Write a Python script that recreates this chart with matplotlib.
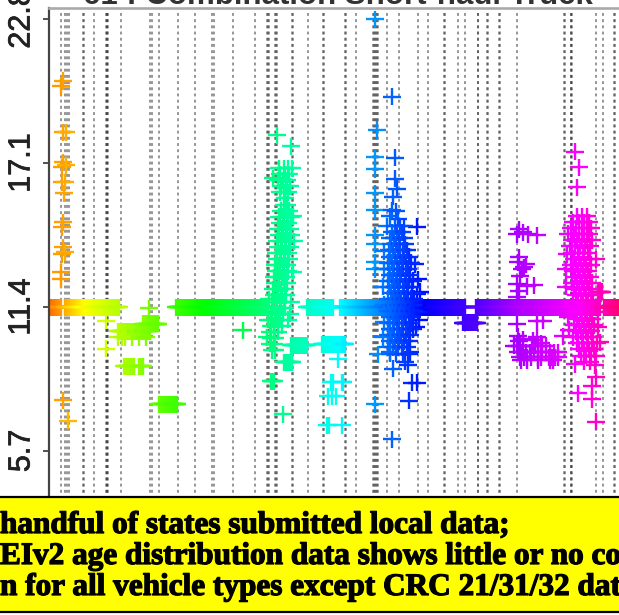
import numpy as np
import matplotlib
matplotlib.use('Agg')
import matplotlib.pyplot as plt
from matplotlib.colors import hsv_to_rgb
from matplotlib.patches import Rectangle
import matplotlib.patheffects as pe

# Site numbers that carry a dotted guide line (repeats make the darker ones)
guide_sites = [61, 65, 67, 69, 83, 84, 94, 106, 107, 107, 108, 121, 150, 152, 159, 178, 195,
               212, 214, 233, 255, 267, 268, 269, 275, 276, 277, 292, 293, 308, 323, 324, 345, 346,
               356, 373, 374, 375, 376, 377, 378, 387, 399, 418, 428, 444, 445, 458, 465, 478, 478,
               487, 488, 499, 500, 517, 564, 565, 571, 571, 572, 596, 603, 614, 615]

# Runs of consecutive sites sharing one value
run_first = [50, 65, 176, 307, 340, 378, 476, 604, 118, 143, 124, 139, 159, 291, 322, 284, 271, 463, 598]
run_last = [61, 119, 268, 333, 377, 465, 600, 619, 150, 158, 134, 143, 177, 307, 345, 292, 274, 477, 602]
run_value = [11.4, 11.4, 11.4, 11.4, 11.4, 11.4, 11.4, 11.4, 10.45, 10.73, 9.06, 9.06, 7.55, 9.89,
             9.93, 9.22, 8.46, 10.77, 12.0]

# Orange and green sites
low_sites = [63, 61, 63, 66, 63, 62, 66, 62, 65, 64, 62, 63, 63, 62, 65, 61, 61, 63, 68,
             106, 106, 149, 118, 125, 132, 139, 146, 122, 243]
low_values = [20.35, 20.15, 18.33, 18.33, 17.14, 16.94, 17.02, 16.34, 16.34, 15.91, 14.56, 14.76,
              13.77, 13.49, 13.57, 12.78, 12.5, 7.72, 6.89,
              10.85, 9.74, 11.36, 10.21, 10.21, 10.21, 10.21, 10.21, 10.21, 10.49]

# Teal column, one list of sites for each value
teal_sites = [277, 291, 283, 293, 294, 268, 267, 269, 293, 292, 273]
teal_values = [18.21, 17.77, 7.16, 15.0, 14.0, 10.9, 10.2, 11.7, 12.8, 16.9, 16.5]
teal_row_values = [16.9, 16.66, 16.42, 16.18, 15.94, 15.7, 15.46, 15.22, 14.98, 14.74, 14.5, 14.26, 14.02,
                   13.78, 13.54, 13.3, 13.06, 12.82, 12.58, 12.34, 12.1, 11.86, 11.62, 11.38, 11.14, 10.9,
                   10.66, 10.42, 10.18, 9.94, 9.7]
teal_row_sites = [[279, 284, 288], [280, 285, 289], [278, 283, 287], [281, 286, 290], [280, 284, 288],
                  [285], [284, 287], [281, 285, 289], [279, 283, 287, 291], [280, 284, 288],
                  [278, 282, 286, 290], [279, 283, 287, 291], [277, 281, 285, 289], [278, 282, 286, 290],
                  [276, 280, 284, 288], [277, 281, 285, 289], [275, 279, 283, 287], [276, 280, 284, 288],
                  [274, 278, 282, 286], [275, 279, 284, 287], [273, 277, 281, 285], [274, 278, 282, 286],
                  [272, 276, 280, 284, 291], [273, 277, 281, 285], [271, 275, 279, 283, 290],
                  [272, 276, 280, 288], [271, 274, 278, 282], [270, 274, 278], [271, 275], [270, 274], [272, 275]]

# Cyan outliers
cyan_sites = [338, 331, 333, 342, 343, 328, 332, 336, 327, 329, 342]
cyan_values = [9.34, 8.42, 8.42, 8.42, 8.42, 7.87, 7.87, 7.87, 6.72, 6.72, 6.72]

# Blue column, the light blue sites on the left first
blue_sites = [375, 377, 375, 375, 375, 375, 375, 375, 375, 375, 378, 375,
              392, 395, 395, 397, 393, 392, 398, 417, 393, 405, 408, 412, 417, 409, 392, 390, 410,
              384, 383, 384, 418, 417, 418, 416, 384, 383, 415, 384, 387, 404, 390, 396, 420, 419]
blue_values = [22.8, 18.41, 17.34, 16.86, 15.91, 15.24, 14.25, 13.89, 13.18, 12.9, 9.54, 7.56,
               19.72, 17.31, 16.48, 16.08, 15.77, 15.24, 14.89, 14.57, 8.95, 9.23, 9.11, 8.4, 8.4, 7.69,
               6.17, 9.62, 9.62,
               12.9, 12.2, 11.5, 12.5, 11.9, 11.2, 10.6, 10.8, 10.2, 13.1, 13.6, 14.6, 14.6, 15.0, 15.2, 12.0, 10.9]
blue_row_values = [14.6, 14.36, 14.12, 13.88, 13.64, 13.4, 13.16, 12.92, 12.68, 12.44, 12.2, 11.96, 11.72,
                   11.48, 11.24, 11.0, 10.76, 10.52, 10.28, 10.04, 9.8, 9.56]
blue_row_sites = [[395, 400], [392, 397, 402], [390, 394, 399, 404], [391, 396, 400, 405],
                  [389, 393, 398, 403, 407], [390, 395, 400, 404, 409], [388, 392, 397, 402, 406, 411],
                  [389, 394, 399, 403, 408], [390, 393, 397, 401, 406, 410], [388, 392, 396, 400, 405, 409, 413],
                  [389, 394, 398, 403, 407, 412], [391, 395, 399, 404, 408, 412],
                  [388, 393, 397, 401, 406, 411, 414], [390, 394, 399, 403, 408, 413],
                  [388, 392, 396, 401, 405, 410, 414], [390, 395, 399, 404, 409, 412],
                  [388, 393, 397, 402, 406, 411], [390, 394, 399, 403, 408, 413],
                  [388, 392, 397, 401, 406, 410], [390, 395, 399, 404, 409], [388, 393, 398, 402, 407],
                  [390, 396, 403, 409]]

# Purple sites
purple_sites = [519, 517, 523, 528, 537, 518, 522, 524, 519, 526, 520, 517, 527, 534, 519, 517, 517, 537, 543,
                518, 523, 537, 563, 519, 533, 541]
purple_values = [14.49, 14.29, 14.37, 14.29, 14.25, 13.18, 12.9, 12.98, 13.38, 13.1, 12.63, 12.31, 12.23, 12.27,
                 12.03, 11.8, 10.73, 10.85, 10.85, 10.25, 10.13, 10.21, 10.25, 10.05, 10.09, 9.97]
purple_row_values = [9.86, 9.62, 9.42, 9.3]
purple_row_sites = [[514, 517, 520, 523, 532, 535, 538, 542, 546],
                    [518, 522, 526, 530, 534, 538, 542, 546, 550, 554, 558],
                    [520, 524, 527, 531, 538, 541, 549, 552, 555, 558],
                    [521, 527, 538, 550, 553]]

# Magenta column
magenta_sites = [575, 579, 577, 575, 595, 596, 578, 592, 592, 596,
                 567, 566, 568, 566, 568, 569, 598, 598, 600, 596]
magenta_values = [17.54, 16.94, 16.15, 9.14, 9.1, 8.63, 7.99, 8.27, 7.76, 6.85,
                  13.5, 12.9, 14.3, 12.2, 11.0, 10.5, 11.2, 10.6, 10.0, 13.3]
magenta_row_values = [15.0, 14.76, 14.52, 14.28, 14.04, 13.8, 13.56, 13.32, 13.08, 12.84, 12.6, 12.36, 12.12,
                      11.88, 11.64, 11.16, 10.92, 10.68, 10.44, 10.2, 9.96, 9.72, 9.48, 9.24]
magenta_row_sites = [[577, 582, 587], [573, 579, 584, 589], [571, 576, 582, 587, 591], [574, 579, 584, 589],
                     [572, 577, 582, 587, 592], [570, 575, 580, 585, 590], [572, 578, 583, 588],
                     [574, 579, 584, 590], [571, 576, 581, 586, 591], [573, 578, 583, 588], [575, 580, 585, 590],
                     [572, 577, 582, 587, 592], [574, 579, 584, 589], [576, 581, 586, 591],
                     [573, 578, 583, 588, 593], [575, 580, 585, 590], [577, 582, 587, 592],
                     [574, 579, 584, 589, 594], [576, 581, 586, 591], [573, 578, 583, 588, 593],
                     [577, 582, 587, 592, 597], [579, 584, 589, 594], [581, 586, 591, 596], [584, 590]]

y_ticks = [22.8, 17.1, 11.4, 5.7]
y_tick_labels = ['22.8', '17.1', '11.4', '5.7']
title_text = '61 : Combination Short-haul Truck'
note_lines = ['handful of states submitted local data;',
              'EIv2 age distribution data shows little or no county',
              'n for all vehicle types except CRC 21/31/32 data']

# Hue runs along the site number, rainbow style
hue_sites = [50, 85, 205, 340, 425, 480, 520, 580, 619]
hue_steps = [0.07, 0.167, 0.333, 0.5, 0.667, 0.722, 0.78, 0.833, 0.92]


def site_colors(sites):
    hues = np.interp(sites, hue_sites, hue_steps)
    return hsv_to_rgb(np.column_stack([hues, np.ones(len(hues)), np.ones(len(hues))]))


W, H = 619, 615
fig = plt.figure(figsize=(W / 100, H / 100), dpi=100, facecolor='white')
ax = fig.add_axes([49 / W, (H - 496) / H, 570 / W, 488 / H])
ax.set_xlim(49, 619)
ax.set_ylim(3.92, 23.24)

# Dotted guides, dash pattern starts at the top
ax.vlines(guide_sites, 23.05, 3.92, colors='#303030', alpha=0.55, linewidth=1.3,
          linestyles=[(0, (1.6, 1.83))], zorder=1)

# Build the full point list, the runs go underneath
all_x = []
all_y = []
for first, last, value in zip(run_first, run_last, run_value):
    sites = list(range(first, last + 1))
    all_x += sites
    all_y += [value] * len(sites)
all_x += low_sites + teal_sites + cyan_sites + blue_sites + purple_sites + magenta_sites
all_y += low_values + teal_values + cyan_values + blue_values + purple_values + magenta_values
for row_values, row_sites in [(teal_row_values, teal_row_sites), (blue_row_values, blue_row_sites),
                              (purple_row_values, purple_row_sites), (magenta_row_values, magenta_row_sites)]:
    for value, sites in zip(row_values, row_sites):
        all_x += sites
        all_y += [value] * len(sites)

ax.scatter(all_x, all_y, marker='+', s=150, c=site_colors(all_x), linewidths=1.7, zorder=2)

ax.set_xticks([])
ax.set_yticks(y_ticks)
ax.set_yticklabels(y_tick_labels, rotation=90, va='center', fontsize=22,
                   family=['Liberation Sans Narrow', 'Liberation Sans'], color='#222222',
                   path_effects=[pe.withStroke(linewidth=0.5, foreground='#222222')])
ax.tick_params(axis='y', length=4, width=1.2, color='#333333', pad=5)
ax.spines['right'].set_visible(False)
ax.spines['bottom'].set_visible(False)
ax.spines['left'].set_linewidth(1.6)
ax.spines['left'].set_color('#444444')
ax.spines['top'].set_linewidth(1.9)
ax.spines['top'].set_color('#aaaaaa')

# Title is cropped by the top of the image
fig.text(338 / W, (H - 4) / H, title_text, ha='center', va='baseline', fontsize=22.5,
         fontweight='bold', family='Liberation Sans', color='#333333')

# Yellow note box across the bottom
fig.add_artist(Rectangle((-0.01, (H - 612) / H), 1.02, 115 / H, transform=fig.transFigure,
                         facecolor='#ffff00', edgecolor='black', linewidth=1.6))
for line, base_y in zip(note_lines, [533, 564, 595]):
    fig.text(0, (H - base_y) / H, line, ha='left', va='baseline', fontsize=22.5, fontweight='bold',
             family='Liberation Serif', color='black',
             path_effects=[pe.withStroke(linewidth=0.9, foreground='black')])

fig.savefig('out.png', dpi=100)
